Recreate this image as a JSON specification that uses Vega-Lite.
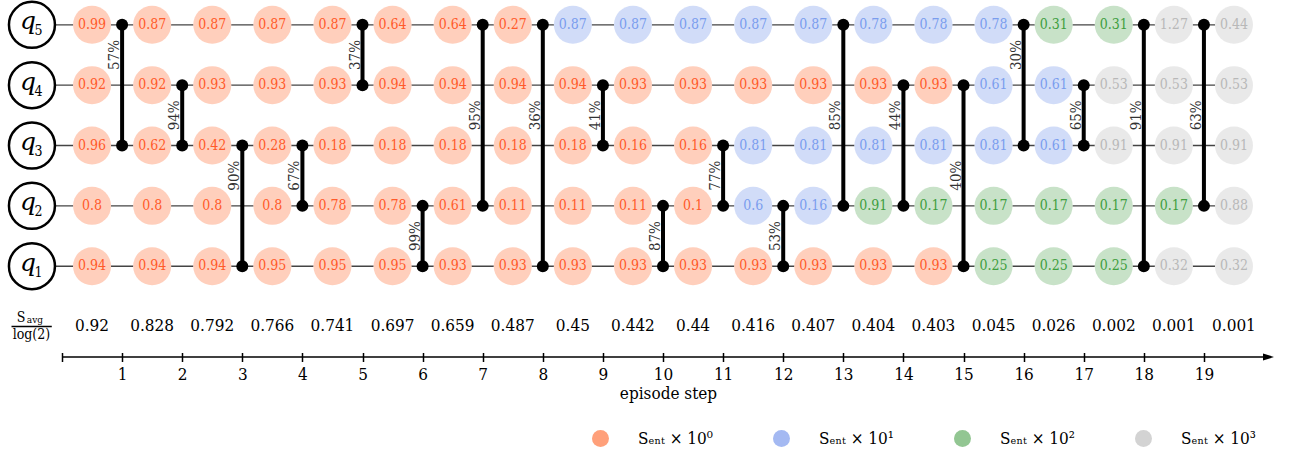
{
"$schema":"https://vega.github.io/schema/vega-lite/v6.json",
"width":1212,"height":357,
"autosize":{"type":"none"},
"padding":{"left":62,"top":0,"right":36,"bottom":98},
"background":"white",
"config":{"view":{"stroke":null},"font":"DejaVu Serif Condensed",
 "axisX":{"domain":false,"grid":false,"ticks":true,"tickSize":9,"tickWidth":1.5,"tickColor":"black","labelFont":"DejaVu Serif Condensed","labelFontSize":17,"labelColor":"black","labelPadding":5,"labelFlush":false,"labelOverlap":false,"titleFont":"DejaVu Serif Condensed","titleFontSize":17,"titleFontWeight":"normal","titleColor":"black","titlePadding":3}},
"datasets":{
"cells":[
{"x":0.5,"q":5,"v":0.99,"c":0},{"x":0.5,"q":4,"v":0.92,"c":0},{"x":0.5,"q":3,"v":0.96,"c":0},{"x":0.5,"q":2,"v":0.8,"c":0},{"x":0.5,"q":1,"v":0.94,"c":0},
{"x":1.5,"q":5,"v":0.87,"c":0},{"x":1.5,"q":4,"v":0.92,"c":0},{"x":1.5,"q":3,"v":0.62,"c":0},{"x":1.5,"q":2,"v":0.8,"c":0},{"x":1.5,"q":1,"v":0.94,"c":0},
{"x":2.5,"q":5,"v":0.87,"c":0},{"x":2.5,"q":4,"v":0.93,"c":0},{"x":2.5,"q":3,"v":0.42,"c":0},{"x":2.5,"q":2,"v":0.8,"c":0},{"x":2.5,"q":1,"v":0.94,"c":0},
{"x":3.5,"q":5,"v":0.87,"c":0},{"x":3.5,"q":4,"v":0.93,"c":0},{"x":3.5,"q":3,"v":0.28,"c":0},{"x":3.5,"q":2,"v":0.8,"c":0},{"x":3.5,"q":1,"v":0.95,"c":0},
{"x":4.5,"q":5,"v":0.87,"c":0},{"x":4.5,"q":4,"v":0.93,"c":0},{"x":4.5,"q":3,"v":0.18,"c":0},{"x":4.5,"q":2,"v":0.78,"c":0},{"x":4.5,"q":1,"v":0.95,"c":0},
{"x":5.5,"q":5,"v":0.64,"c":0},{"x":5.5,"q":4,"v":0.94,"c":0},{"x":5.5,"q":3,"v":0.18,"c":0},{"x":5.5,"q":2,"v":0.78,"c":0},{"x":5.5,"q":1,"v":0.95,"c":0},
{"x":6.5,"q":5,"v":0.64,"c":0},{"x":6.5,"q":4,"v":0.94,"c":0},{"x":6.5,"q":3,"v":0.18,"c":0},{"x":6.5,"q":2,"v":0.61,"c":0},{"x":6.5,"q":1,"v":0.93,"c":0},
{"x":7.5,"q":5,"v":0.27,"c":0},{"x":7.5,"q":4,"v":0.94,"c":0},{"x":7.5,"q":3,"v":0.18,"c":0},{"x":7.5,"q":2,"v":0.11,"c":0},{"x":7.5,"q":1,"v":0.93,"c":0},
{"x":8.5,"q":5,"v":0.87,"c":1},{"x":8.5,"q":4,"v":0.94,"c":0},{"x":8.5,"q":3,"v":0.18,"c":0},{"x":8.5,"q":2,"v":0.11,"c":0},{"x":8.5,"q":1,"v":0.93,"c":0},
{"x":9.5,"q":5,"v":0.87,"c":1},{"x":9.5,"q":4,"v":0.93,"c":0},{"x":9.5,"q":3,"v":0.16,"c":0},{"x":9.5,"q":2,"v":0.11,"c":0},{"x":9.5,"q":1,"v":0.93,"c":0},
{"x":10.5,"q":5,"v":0.87,"c":1},{"x":10.5,"q":4,"v":0.93,"c":0},{"x":10.5,"q":3,"v":0.16,"c":0},{"x":10.5,"q":2,"v":0.1,"c":0},{"x":10.5,"q":1,"v":0.93,"c":0},
{"x":11.5,"q":5,"v":0.87,"c":1},{"x":11.5,"q":4,"v":0.93,"c":0},{"x":11.5,"q":3,"v":0.81,"c":1},{"x":11.5,"q":2,"v":0.6,"c":1},{"x":11.5,"q":1,"v":0.93,"c":0},
{"x":12.5,"q":5,"v":0.87,"c":1},{"x":12.5,"q":4,"v":0.93,"c":0},{"x":12.5,"q":3,"v":0.81,"c":1},{"x":12.5,"q":2,"v":0.16,"c":1},{"x":12.5,"q":1,"v":0.93,"c":0},
{"x":13.5,"q":5,"v":0.78,"c":1},{"x":13.5,"q":4,"v":0.93,"c":0},{"x":13.5,"q":3,"v":0.81,"c":1},{"x":13.5,"q":2,"v":0.91,"c":2},{"x":13.5,"q":1,"v":0.93,"c":0},
{"x":14.5,"q":5,"v":0.78,"c":1},{"x":14.5,"q":4,"v":0.93,"c":0},{"x":14.5,"q":3,"v":0.81,"c":1},{"x":14.5,"q":2,"v":0.17,"c":2},{"x":14.5,"q":1,"v":0.93,"c":0},
{"x":15.5,"q":5,"v":0.78,"c":1},{"x":15.5,"q":4,"v":0.61,"c":1},{"x":15.5,"q":3,"v":0.81,"c":1},{"x":15.5,"q":2,"v":0.17,"c":2},{"x":15.5,"q":1,"v":0.25,"c":2},
{"x":16.5,"q":5,"v":0.31,"c":2},{"x":16.5,"q":4,"v":0.61,"c":1},{"x":16.5,"q":3,"v":0.61,"c":1},{"x":16.5,"q":2,"v":0.17,"c":2},{"x":16.5,"q":1,"v":0.25,"c":2},
{"x":17.5,"q":5,"v":0.31,"c":2},{"x":17.5,"q":4,"v":0.53,"c":3},{"x":17.5,"q":3,"v":0.91,"c":3},{"x":17.5,"q":2,"v":0.17,"c":2},{"x":17.5,"q":1,"v":0.25,"c":2},
{"x":18.5,"q":5,"v":1.27,"c":3},{"x":18.5,"q":4,"v":0.53,"c":3},{"x":18.5,"q":3,"v":0.91,"c":3},{"x":18.5,"q":2,"v":0.17,"c":2},{"x":18.5,"q":1,"v":0.32,"c":3},
{"x":19.5,"q":5,"v":0.44,"c":3},{"x":19.5,"q":4,"v":0.53,"c":3},{"x":19.5,"q":3,"v":0.91,"c":3},{"x":19.5,"q":2,"v":0.88,"c":3},{"x":19.5,"q":1,"v":0.32,"c":3}
],
"gates":[
{"x":1,"a":5,"b":3,"p":"57%","ly":4.5},{"x":2,"a":4,"b":3,"p":"94%","ly":3.5},{"x":3,"a":3,"b":1,"p":"90%","ly":2.5},{"x":4,"a":3,"b":2,"p":"67%","ly":2.5},
{"x":5,"a":5,"b":4,"p":"37%","ly":4.5},{"x":6,"a":2,"b":1,"p":"99%","ly":1.5},{"x":7,"a":5,"b":2,"p":"95%","ly":3.5},{"x":8,"a":5,"b":1,"p":"36%","ly":3.5},
{"x":9,"a":4,"b":3,"p":"41%","ly":3.5},{"x":10,"a":2,"b":1,"p":"87%","ly":1.5},{"x":11,"a":3,"b":2,"p":"77%","ly":2.5},{"x":12,"a":2,"b":1,"p":"53%","ly":1.5},
{"x":13,"a":5,"b":2,"p":"85%","ly":3.5},{"x":14,"a":4,"b":2,"p":"44%","ly":3.5},{"x":15,"a":4,"b":1,"p":"40%","ly":2.5},{"x":16,"a":5,"b":3,"p":"30%","ly":4.5},
{"x":17,"a":4,"b":3,"p":"65%","ly":3.5},{"x":18,"a":5,"b":1,"p":"91%","ly":3.5},{"x":19,"a":5,"b":2,"p":"63%","ly":3.5}
],
"qubits":[{"q":1,"n":"1"},{"q":2,"n":"2"},{"q":3,"n":"3"},{"q":4,"n":"4"},{"q":5,"n":"5"}],
"savg":[
{"x":0.5,"s":"0.92"},{"x":1.5,"s":"0.828"},{"x":2.5,"s":"0.792"},{"x":3.5,"s":"0.766"},{"x":4.5,"s":"0.741"},
{"x":5.5,"s":"0.697"},{"x":6.5,"s":"0.659"},{"x":7.5,"s":"0.487"},{"x":8.5,"s":"0.45"},{"x":9.5,"s":"0.442"},
{"x":10.5,"s":"0.44"},{"x":11.5,"s":"0.416"},{"x":12.5,"s":"0.407"},{"x":13.5,"s":"0.404"},{"x":14.5,"s":"0.403"},
{"x":15.5,"s":"0.045"},{"x":16.5,"s":"0.026"},{"x":17.5,"s":"0.002"},{"x":18.5,"s":"0.001"},{"x":19.5,"s":"0.001"}
]
},
"layer":[
{"data":{"name":"qubits"},"mark":{"type":"rule","color":"#444444","strokeWidth":1.3},
 "encoding":{"x":{"datum":-0.5,"type":"quantitative","scale":{"domain":[0,20.166],"nice":false,"zero":false},"axis":{"title":"episode step","offset":-4.5,"values":[0,1,2,3,4,5,6,7,8,9,10,11,12,13,14,15,16,17,18,19],"labelExpr":"datum.value == 0 ? '' : datum.label"}},"x2":{"datum":19.5},
  "y":{"field":"q","type":"quantitative","scale":{"domain":[-0.504,5.411],"nice":false,"zero":false},"axis":null}}},
{"data":{"name":"gates"},"mark":{"type":"rule","color":"black","strokeWidth":4},
 "encoding":{"x":{"field":"x","type":"quantitative","scale":{"domain":[0,20.166],"nice":false,"zero":false},"axis":{"title":"episode step","offset":-4.5,"values":[0,1,2,3,4,5,6,7,8,9,10,11,12,13,14,15,16,17,18,19],"labelExpr":"datum.value == 0 ? '' : datum.label"}},
  "y":{"field":"a","type":"quantitative","scale":{"domain":[-0.504,5.411],"nice":false,"zero":false},"axis":null},"y2":{"field":"b"}}},
{"data":{"name":"cells"},"mark":{"type":"circle","size":1444,"opacity":1,"color":"white"},
 "encoding":{"x":{"field":"x","type":"quantitative","scale":{"domain":[0,20.166],"nice":false,"zero":false},"axis":{"title":"episode step","offset":-4.5,"values":[0,1,2,3,4,5,6,7,8,9,10,11,12,13,14,15,16,17,18,19],"labelExpr":"datum.value == 0 ? '' : datum.label"}},
  "y":{"field":"q","type":"quantitative","scale":{"domain":[-0.504,5.411],"nice":false,"zero":false},"axis":null}}},
{"data":{"name":"cells"},"mark":{"type":"circle","size":1444,"opacity":0.5},
 "encoding":{"x":{"field":"x","type":"quantitative","scale":{"domain":[0,20.166],"nice":false,"zero":false},"axis":{"title":"episode step","offset":-4.5,"values":[0,1,2,3,4,5,6,7,8,9,10,11,12,13,14,15,16,17,18,19],"labelExpr":"datum.value == 0 ? '' : datum.label"}},
  "y":{"field":"q","type":"quantitative","scale":{"domain":[-0.504,5.411],"nice":false,"zero":false},"axis":null},
  "color":{"field":"c","type":"nominal","scale":{"domain":[0,1,2,3],"range":["#FFA07A","#A4B9F2","#92C692","#D3D3D3"]},
   "legend":{"title":null,"orient":"none","legendX":530,"legendY":430,"direction":"horizontal","columns":4,"symbolType":"circle","symbolSize":289,"symbolOpacity":1,"symbolStrokeWidth":0,"labelFont":"DejaVu Serif Condensed","labelFontSize":17,"labelColor":"black","labelOffset":29,"columnPadding":60,"padding":0,"labelExpr":"'Sₑₙₜ × 10' + ['⁰','¹','²','³'][+datum.value]"}}}},
{"data":{"name":"cells"},"mark":{"type":"text","fontSize":14},
 "encoding":{"x":{"field":"x","type":"quantitative","scale":{"domain":[0,20.166],"nice":false,"zero":false},"axis":{"title":"episode step","offset":-4.5,"values":[0,1,2,3,4,5,6,7,8,9,10,11,12,13,14,15,16,17,18,19],"labelExpr":"datum.value == 0 ? '' : datum.label"}},
  "y":{"field":"q","type":"quantitative","scale":{"domain":[-0.504,5.411],"nice":false,"zero":false},"axis":null},
  "text":{"field":"v","type":"nominal"},
  "color":{"field":"c","type":"nominal","scale":{"domain":[0,1,2,3],"range":["#FF5A2A","#7A9DEE","#3E9E3E","#B8B8B8"]},"legend":null}}},
{"data":{"name":"gates"},"mark":{"type":"circle","size":144,"color":"black","opacity":1},
 "encoding":{"x":{"field":"x","type":"quantitative","scale":{"domain":[0,20.166],"nice":false,"zero":false},"axis":{"title":"episode step","offset":-4.5,"values":[0,1,2,3,4,5,6,7,8,9,10,11,12,13,14,15,16,17,18,19],"labelExpr":"datum.value == 0 ? '' : datum.label"}},
  "y":{"field":"a","type":"quantitative","scale":{"domain":[-0.504,5.411],"nice":false,"zero":false},"axis":null}}},
{"data":{"name":"gates"},"mark":{"type":"circle","size":144,"color":"black","opacity":1},
 "encoding":{"x":{"field":"x","type":"quantitative","scale":{"domain":[0,20.166],"nice":false,"zero":false},"axis":{"title":"episode step","offset":-4.5,"values":[0,1,2,3,4,5,6,7,8,9,10,11,12,13,14,15,16,17,18,19],"labelExpr":"datum.value == 0 ? '' : datum.label"}},
  "y":{"field":"b","type":"quantitative","scale":{"domain":[-0.504,5.411],"nice":false,"zero":false},"axis":null}}},
{"data":{"name":"gates"},"mark":{"type":"text","angle":270,"align":"center","baseline":"alphabetic","dy":-3,"fontSize":15,"color":"#333333"},
 "encoding":{"x":{"field":"x","type":"quantitative","scale":{"domain":[0,20.166],"nice":false,"zero":false},"axis":{"title":"episode step","offset":-4.5,"values":[0,1,2,3,4,5,6,7,8,9,10,11,12,13,14,15,16,17,18,19],"labelExpr":"datum.value == 0 ? '' : datum.label"}},
  "y":{"field":"ly","type":"quantitative","scale":{"domain":[-0.504,5.411],"nice":false,"zero":false},"axis":null},
  "text":{"field":"p","type":"nominal"}}},
{"data":{"name":"qubits"},"mark":{"type":"point","shape":"circle","size":2116,"filled":false,"fill":"white","fillOpacity":1,"stroke":"black","strokeWidth":2.5,"opacity":1},
 "encoding":{"x":{"datum":-0.5,"type":"quantitative","scale":{"domain":[0,20.166],"nice":false,"zero":false},"axis":{"title":"episode step","offset":-4.5,"values":[0,1,2,3,4,5,6,7,8,9,10,11,12,13,14,15,16,17,18,19],"labelExpr":"datum.value == 0 ? '' : datum.label"}},
  "y":{"field":"q","type":"quantitative","scale":{"domain":[-0.504,5.411],"nice":false,"zero":false},"axis":null}}},
{"data":{"name":"qubits"},"mark":{"type":"text","text":"q","font":"DejaVu Serif","fontStyle":"italic","fontSize":25,"dx":-4,"dy":4.5,"baseline":"alphabetic","align":"center","color":"black"},
 "encoding":{"x":{"datum":-0.5,"type":"quantitative","scale":{"domain":[0,20.166],"nice":false,"zero":false},"axis":{"title":"episode step","offset":-4.5,"values":[0,1,2,3,4,5,6,7,8,9,10,11,12,13,14,15,16,17,18,19],"labelExpr":"datum.value == 0 ? '' : datum.label"}},
  "y":{"field":"q","type":"quantitative","scale":{"domain":[-0.504,5.411],"nice":false,"zero":false},"axis":null}}},
{"data":{"name":"qubits"},"mark":{"type":"text","fontSize":14,"dx":6.5,"dy":10.5,"baseline":"alphabetic","align":"center","color":"black"},
 "encoding":{"x":{"datum":-0.5,"type":"quantitative","scale":{"domain":[0,20.166],"nice":false,"zero":false},"axis":{"title":"episode step","offset":-4.5,"values":[0,1,2,3,4,5,6,7,8,9,10,11,12,13,14,15,16,17,18,19],"labelExpr":"datum.value == 0 ? '' : datum.label"}},
  "y":{"field":"q","type":"quantitative","scale":{"domain":[-0.504,5.411],"nice":false,"zero":false},"axis":null},
  "text":{"field":"n","type":"nominal"}}},
{"data":{"name":"savg"},"mark":{"type":"text","fontSize":17,"baseline":"middle","align":"center","color":"black","dy":-1},
 "encoding":{"x":{"field":"x","type":"quantitative","scale":{"domain":[0,20.166],"nice":false,"zero":false},"axis":{"title":"episode step","offset":-4.5,"values":[0,1,2,3,4,5,6,7,8,9,10,11,12,13,14,15,16,17,18,19],"labelExpr":"datum.value == 0 ? '' : datum.label"}},
  "y":{"datum":0,"type":"quantitative","scale":{"domain":[-0.504,5.411],"nice":false,"zero":false},"axis":null},
  "text":{"field":"s","type":"nominal"}}},
{"data":{"values":[{}]},"mark":{"type":"rule","color":"black","strokeWidth":1.5},
 "encoding":{"x":{"datum":-0.84,"type":"quantitative","scale":{"domain":[0,20.166],"nice":false,"zero":false},"axis":{"title":"episode step","offset":-4.5,"values":[0,1,2,3,4,5,6,7,8,9,10,11,12,13,14,15,16,17,18,19],"labelExpr":"datum.value == 0 ? '' : datum.label"}},"x2":{"datum":-0.17},
  "y":{"datum":0,"type":"quantitative","scale":{"domain":[-0.504,5.411],"nice":false,"zero":false},"axis":null}}},
{"data":{"values":[{}]},"mark":{"type":"text","text":"S","fontSize":14,"dx":-11,"dy":-5,"baseline":"alphabetic","align":"center","color":"black"},
 "encoding":{"x":{"datum":-0.5,"type":"quantitative","scale":{"domain":[0,20.166],"nice":false,"zero":false},"axis":{"title":"episode step","offset":-4.5,"values":[0,1,2,3,4,5,6,7,8,9,10,11,12,13,14,15,16,17,18,19],"labelExpr":"datum.value == 0 ? '' : datum.label"}},
  "y":{"datum":0,"type":"quantitative","scale":{"domain":[-0.504,5.411],"nice":false,"zero":false},"axis":null}}},
{"data":{"values":[{}]},"mark":{"type":"text","text":"avg","fontSize":10,"dx":3,"dy":-3.5,"baseline":"alphabetic","align":"center","color":"black"},
 "encoding":{"x":{"datum":-0.5,"type":"quantitative","scale":{"domain":[0,20.166],"nice":false,"zero":false},"axis":{"title":"episode step","offset":-4.5,"values":[0,1,2,3,4,5,6,7,8,9,10,11,12,13,14,15,16,17,18,19],"labelExpr":"datum.value == 0 ? '' : datum.label"}},
  "y":{"datum":0,"type":"quantitative","scale":{"domain":[-0.504,5.411],"nice":false,"zero":false},"axis":null}}},
{"data":{"values":[{}]},"mark":{"type":"text","text":"log(2)","fontSize":14,"dx":-0.5,"dy":12.5,"baseline":"alphabetic","align":"center","color":"black"},
 "encoding":{"x":{"datum":-0.5,"type":"quantitative","scale":{"domain":[0,20.166],"nice":false,"zero":false},"axis":{"title":"episode step","offset":-4.5,"values":[0,1,2,3,4,5,6,7,8,9,10,11,12,13,14,15,16,17,18,19],"labelExpr":"datum.value == 0 ? '' : datum.label"}},
  "y":{"datum":0,"type":"quantitative","scale":{"domain":[-0.504,5.411],"nice":false,"zero":false},"axis":null}}},
{"data":{"values":[{}]},"mark":{"type":"rule","color":"black","strokeWidth":1.5},
 "encoding":{"x":{"datum":0,"type":"quantitative","scale":{"domain":[0,20.166],"nice":false,"zero":false},"axis":{"title":"episode step","offset":-4.5,"values":[0,1,2,3,4,5,6,7,8,9,10,11,12,13,14,15,16,17,18,19],"labelExpr":"datum.value == 0 ? '' : datum.label"}},"x2":{"datum":20.0},
  "y":{"datum":-0.504,"type":"quantitative","scale":{"domain":[-0.504,5.411],"nice":false,"zero":false},"axis":null}}},
{"data":{"values":[{}]},"mark":{"type":"point","shape":"M-1,-0.65L1,0L-1,0.65Z","size":121,"filled":true,"color":"black","opacity":1},
 "encoding":{"x":{"datum":20.075,"type":"quantitative","scale":{"domain":[0,20.166],"nice":false,"zero":false},"axis":{"title":"episode step","offset":-4.5,"values":[0,1,2,3,4,5,6,7,8,9,10,11,12,13,14,15,16,17,18,19],"labelExpr":"datum.value == 0 ? '' : datum.label"}},
  "y":{"datum":-0.504,"type":"quantitative","scale":{"domain":[-0.504,5.411],"nice":false,"zero":false},"axis":null}}}
],
"resolve":{"scale":{"color":"independent"}}
}
